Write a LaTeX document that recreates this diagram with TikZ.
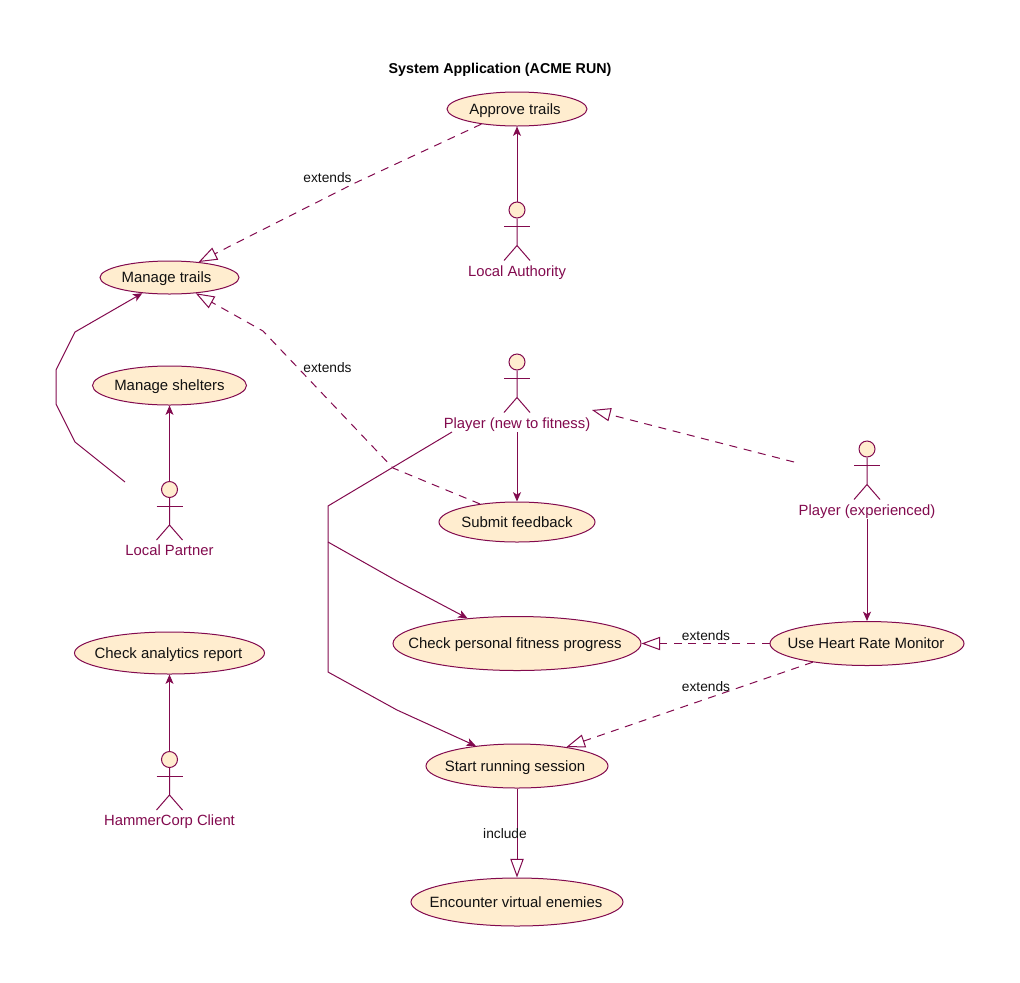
\documentclass[tikz,border=0pt]{standalone}
\usepackage{fontspec}
\setmainfont{Liberation Sans}
\usetikzlibrary{shapes.geometric,arrows.meta}
\definecolor{umlline}{HTML}{820A4E}
\definecolor{umlfill}{HTML}{FFEDCF}
\definecolor{umltext}{HTML}{111111}
\tikzset{
  conn/.style={draw=umlline,line width=0.75pt},
  assoc/.style={conn,-{Stealth[length=7pt,width=6pt,inset=1.8pt]}},
  hollow/.style={conn,-{Triangle[open,length=14pt,width=10pt,fill=white]}},
  dashrel/.style={hollow,dash pattern=on 6pt off 5pt},
  usecase/.style={ellipse,draw=umlline,fill=umlfill,line width=0.75pt,inner sep=0pt,font=\fontsize{11.2pt}{12pt}\selectfont,text=umltext},
  actorhead/.style={circle,draw=umlline,fill=umlfill,line width=0.75pt,inner sep=0pt,minimum size=12pt},
  actorname/.style={inner sep=0pt,minimum height=13.5pt,text height=10pt,text depth=2.2pt,font=\fontsize{11.1pt}{12pt}\selectfont,text=umlline},
  rellabel/.style={inner sep=0pt,text height=8pt,text depth=2pt,font=\fontsize{10.3pt}{12pt}\selectfont,text=umltext},
  titlelabel/.style={inner sep=0pt,text height=8pt,text depth=2pt,font=\fontsize{10.7pt}{12pt}\selectfont\bfseries,text=black}
}
% name, x, y of head centre, label text
\newcommand{\umlactor}[4]{%
  \node[actorhead] (#1) at (#2,#3) {};
  \draw[conn] (#1.south) -- ++(0,27) ++(-13,15) -- ++(13,-15) -- ++(13,15);
  \draw[conn] (#1.south) ++(-13,8) -- ++(26,0);
  \node[actorname] (#1l) at (#2,#3+61) {#4};
}
% name, x, y, rx, ry, text, text offset in pt
\newcommand{\umlcase}[7]{%
  \node[usecase,minimum width=#4*1.5pt,minimum height=#5*1.5pt] (#1) at (#2,#3) {\makebox[0pt]{\smash{\raisebox{-3.8pt}{\kern#7pt #6}}}};
}
\begin{document}
\begin{tikzpicture}[x=0.75pt,y=-0.75pt]
\useasboundingbox (0,0) rectangle (1020,982);
\node[titlelabel] (title) at (500,69) {System Application (ACME RUN)};

\umlcase{approve}{517}{109}{70}{17}{Approve trails}{-3}
\umlcase{trails}{169.5}{277.5}{69.5}{16.5}{Manage trails}{-4.5}
\umlcase{shelters}{169.5}{385.5}{77}{19.5}{Manage shelters}{0}
\umlcase{feedback}{517}{522}{78}{20}{Submit feedback}{0}
\umlcase{analytics}{169.5}{653}{95}{21}{Check analytics report}{-1.5}
\umlcase{fitness}{517}{643.5}{124}{27}{Check personal fitness progress}{-3}
\umlcase{heart}{867}{643.5}{97}{22}{Use Heart Rate Monitor}{-1.5}
\umlcase{running}{517}{766}{91}{22}{Start running session}{-3}
\umlcase{enemies}{517}{902}{106}{24}{Encounter virtual enemies}{-1.5}

\umlactor{authority}{517}{210}{Local Authority}
\umlactor{partner}{169.5}{489.5}{Local Partner}
\umlactor{client}{169.5}{759.5}{HammerCorp Client}
\umlactor{newplayer}{517}{362}{Player (new to fitness)}
\umlactor{expert}{867}{449}{Player (experienced)}

\coordinate (partnerout) at (125,482);
\coordinate (newout) at (452,432);
\coordinate (expertout) at (794,462);
\coordinate (newin) at (592,410);
\coordinate (corner) at (328,506);
\coordinate (branch) at (328,542);
\coordinate (lower) at (328,672);

% plain associations
\draw[assoc] (authority.north) -- (approve.south);
\draw[assoc] (partner.north) -- (shelters.south);
\draw[assoc] (client.north) -- (analytics.south);
\draw[assoc] (newplayerl.south) -- (feedback.north);
\draw[assoc] (expertl.south) -- (heart.north);
\draw[assoc] (partnerout) -- (75,442) -- (56,404) -- (56,370) -- (75,332) -- (trails.210.3);
\draw[assoc] (newout) -- (corner) -- (lower) -- (397,710) -- (running.154.6);
\draw[assoc] (branch) -- (397,581) -- (fitness.153);

% extends / generalisation
\draw[dashrel] (approve.203.2) -- (355,183) -- (trails.28);
\draw[dashrel] (feedback.154.6) -- (393,468) -- (263,331) -- (trails.-31);
\draw[dashrel] (expertout) -- (newin);
\draw[dashrel] (heart.west) -- (fitness.east);
\draw[dashrel] (heart.199.1) -- (running.21.5);
\draw[hollow] (running.south) -- (enemies.north);

\node[rellabel] (ext1) at (327.5,178) {extends};
\node[rellabel] (ext2) at (327.5,368) {extends};
\node[rellabel] (ext3) at (706,636.5) {extends};
\node[rellabel] (ext4) at (706,687) {extends};
\node[rellabel] (inc) at (505,834) {include};
\end{tikzpicture}
\end{document}
